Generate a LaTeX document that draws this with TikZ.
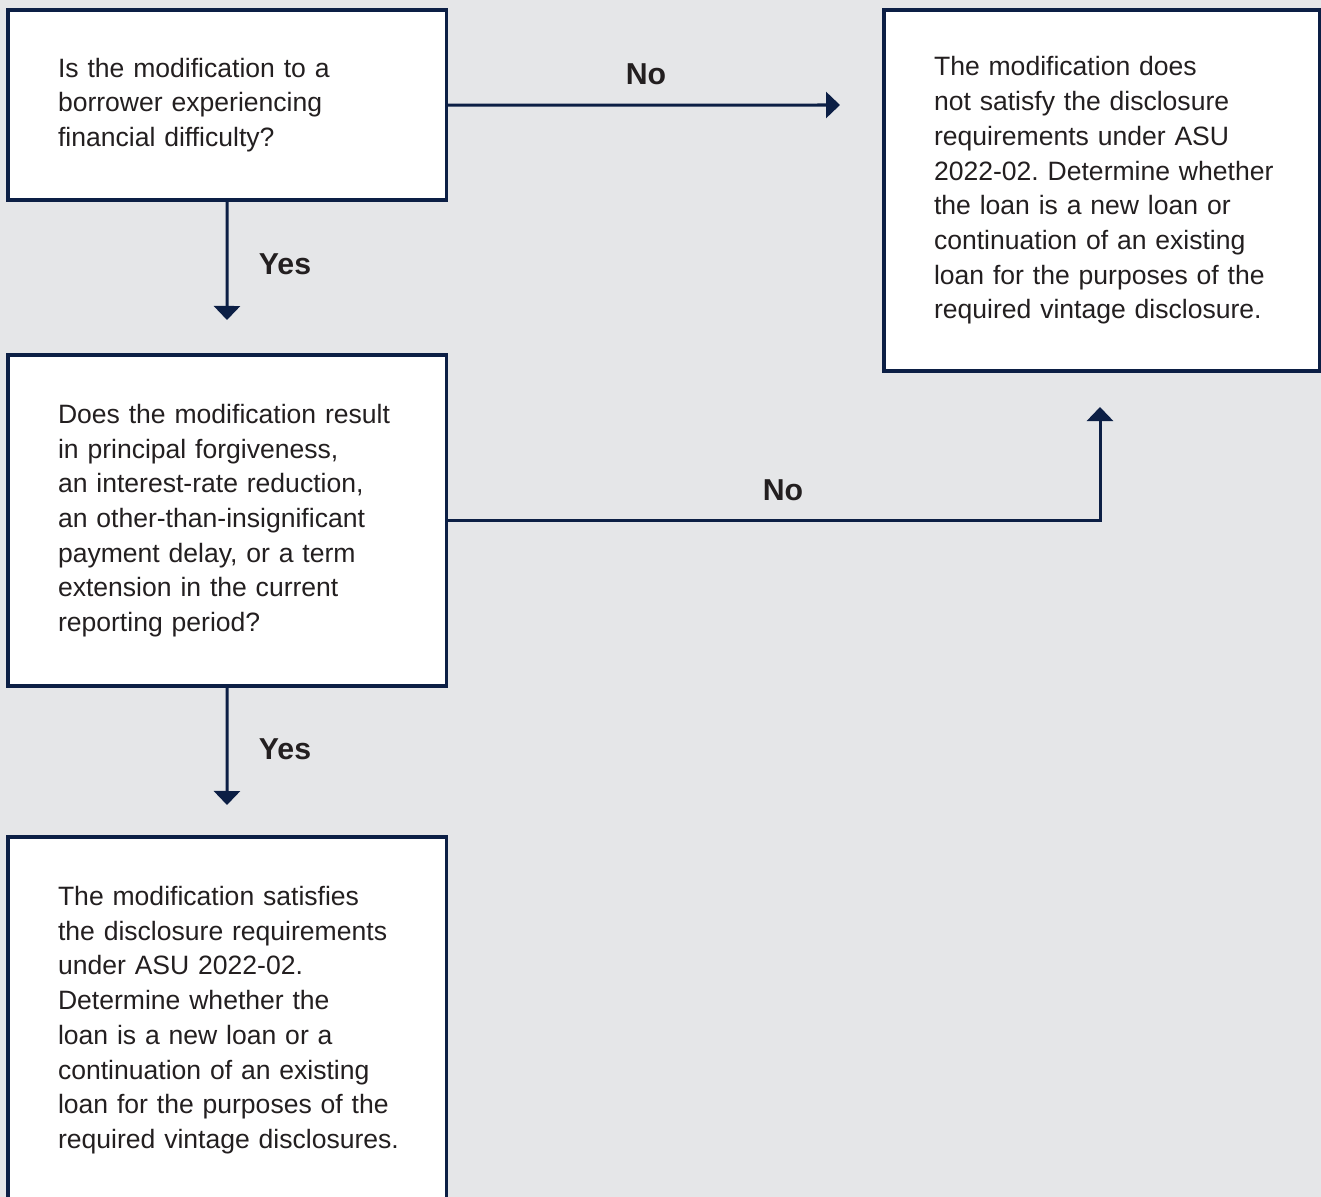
\documentclass[tikz,border=0pt]{standalone}
\usepackage{fontspec}
\setmainfont{Liberation Sans}
\usepackage{tikz}
\usetikzlibrary{calc}
\usetikzlibrary{positioning}
\usetikzlibrary{arrows.meta}
\frenchspacing
\definecolor{bgGray}{HTML}{E5E6E8}
\definecolor{navy}{HTML}{0C1F45}
\definecolor{inkGray}{HTML}{231F20}
\tikzset{
  flow_box/.style = {rectangle, draw=navy, fill=white, line width=0.035cm,
    anchor=north west, outer sep=0pt, inner xsep=0pt, inner ysep=0pt,
    text width=#1, align=left, text=inkGray,
    execute at begin node={\leftskip=0.5cm\relax},
    font=\fontsize{7.55}{9.87}\selectfont},
  flow_box/.default = 4.38cm,
  flow_arrow/.style = {draw=navy, line width=0.03cm,
    -{Triangle[width=0.26cm, length=0.14cm]}},
  branch_label/.style = {text=inkGray, inner sep=0pt,
    font=\fontsize{8.6}{10}\selectfont\bfseries}
}

\begin{document}
\begin{tikzpicture}[x=0.01cm, y=-0.01cm]
  \fill[bgGray] (0,0) rectangle (1321,1197);
  \useasboundingbox (0,0) rectangle (1321,1197);
  % boxes
  \node[flow_box, minimum height=1.90cm] (q_borrower) at (8,10)
    {Is the modification to a\\ borrower experiencing\\ financial difficulty?};
  \node[flow_box=4.35cm, minimum height=3.61cm] (not_satisfied) at (884,10)
    {The modification does\\ not satisfy the disclosure\\ requirements under ASU\\
     2022-02. Determine whether\\ the loan is a new loan or\\ continuation of an existing\\
     loan for the purposes of the\\ required vintage disclosure.};
  \node[flow_box, minimum height=3.31cm] (q_concession) at (8,355)
    {Does the modification result\\ in principal forgiveness,\\ an interest-rate reduction,\\
     an other-than-insignificant\\ payment delay, or a term\\ extension in the current\\
     reporting period?};
  \node[flow_box, minimum height=3.66cm] (satisfied) at (8,837)
    {The modification satisfies\\ the disclosure requirements\\ under ASU 2022-02.\\
     Determine whether the\\ loan is a new loan or a\\ continuation of an existing\\
     loan for the purposes of the\\ required vintage disclosures.};
  % free arrow ends
  \coordinate (yes1_end) at (227,320);
  \coordinate (no1_end) at (840,105);
  \coordinate (no2_end) at (1100,407);
  \coordinate (yes2_end) at (227,805);
  % connectors
  \draw[flow_arrow] (q_borrower.south) -- (yes1_end);
  \draw[flow_arrow] (q_borrower.east) -- (no1_end);
  \draw[flow_arrow] (q_concession.east) -| (no2_end);
  \draw[flow_arrow] (q_concession.south) -- (yes2_end);
  % labels
  \node[branch_label] (yes1_label) at (285,264) {Yes};
  \node[branch_label] (no1_label) at (646,74) {No};
  \node[branch_label] (no2_label) at (783,490) {No};
  \node[branch_label] (yes2_label) at (285,749) {Yes};
\end{tikzpicture}
\end{document}
